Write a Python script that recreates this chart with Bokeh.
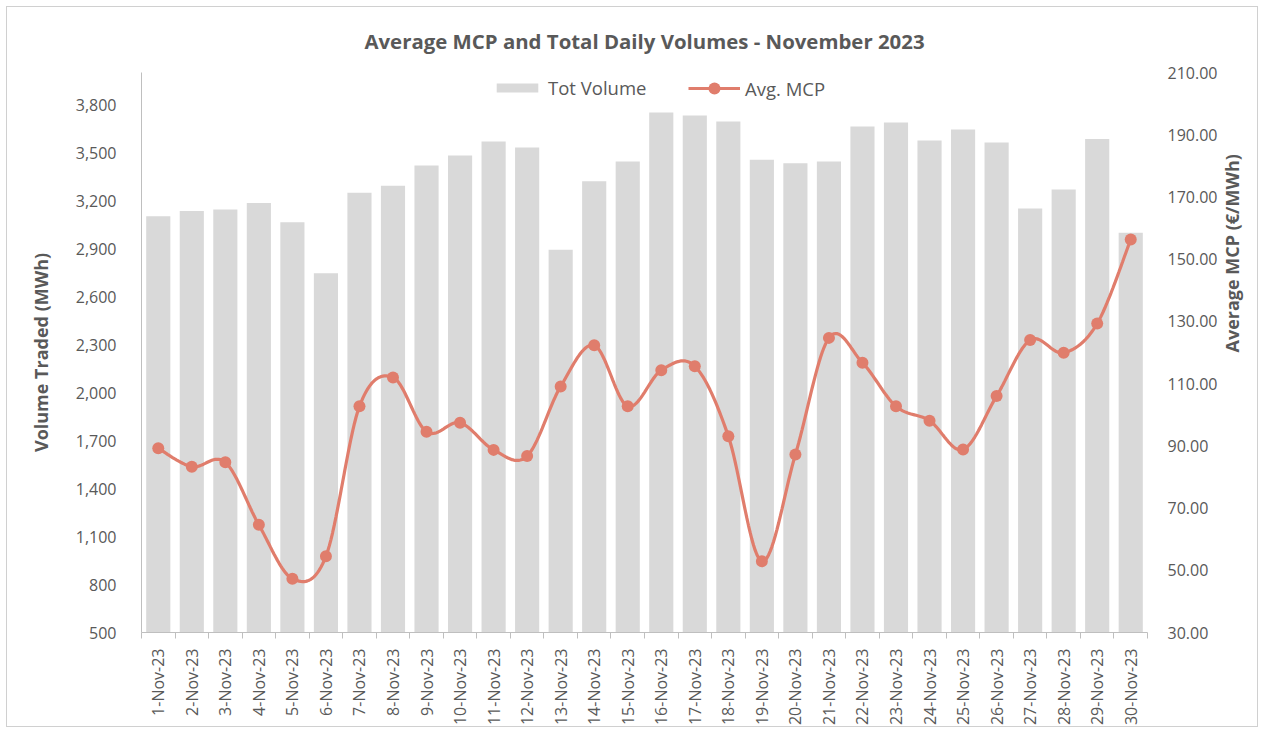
import numpy as np
from bokeh.plotting import figure
from bokeh.models import (Range1d, LinearAxis, FixedTicker, NumeralTickFormatter,
                          Legend, LegendItem)
from bokeh.embed import file_html
from bokeh.resources import INLINE

# ---------------- data ----------------
days = [f"{d}-Nov-23" for d in range(1, 31)]
tot_volume = [3102, 3135, 3144, 3185, 3064, 2746, 3248, 3292, 3419, 3481,
              3569, 3531, 2892, 3321, 3444, 3750, 3731, 3694, 3454, 3433,
              3444, 3662, 3687, 3575, 3644, 3562, 3150, 3269, 3585, 2998]
avg_mcp = [89.2, 83.3, 84.7, 64.6, 47.3, 54.5, 102.7, 112.0, 94.5, 97.4,
           88.7, 86.7, 109.1, 122.3, 102.7, 114.3, 115.6, 93.1, 52.9, 87.2,
           124.7, 116.7, 102.7, 98.1, 88.8, 106.0, 124.0, 119.9, 129.3, 156.3]
left_ticks = list(range(500, 3801, 300))
right_ticks = list(range(30, 211, 20))

FONT = "Open Sans"
GREY = "#595959"
BAR = "#d9d9d9"
LINE = "#e07d6c"

x = np.arange(1, len(days) + 1)


def smooth(xs, ys, n=20):
    pts = np.column_stack([xs, ys]).astype(float)
    out = []
    m = len(pts)
    for i in range(m - 1):
        p0 = pts[i - 1] if i > 0 else pts[i]
        p1 = pts[i]
        p2 = pts[i + 1]
        p3 = pts[i + 2] if i + 2 < m else pts[i + 1]
        c1 = p1 + (p2 - p0) / 6.0
        c2 = p2 - (p3 - p1) / 6.0
        for t in np.linspace(0, 1, n, endpoint=(i == m - 2)):
            b = ((1 - t) ** 3) * p1 + 3 * ((1 - t) ** 2) * t * c1 + 3 * (1 - t) * t * t * c2 + t ** 3 * p2
            out.append(b)
    out = np.array(out)
    return out[:, 0], out[:, 1]


p = figure(width=1252, height=721, output_backend="svg", toolbar_location=None,
           x_range=Range1d(0.5, 30.5), y_range=Range1d(500, 4000),
           min_border_left=134, min_border_right=109, min_border_top=65,
           min_border_bottom=96)
p.extra_y_ranges = {"mcp": Range1d(30, 210)}

p.title.text = "Average MCP and Total Daily Volumes - November 2023"
p.title.align = "center"
p.title.text_font = FONT
p.title.text_font_size = "20.4px"
p.title.text_color = GREY
p.title.text_font_style = "bold"
p.title.standoff = 35

p.xgrid.visible = False
p.ygrid.visible = False
p.outline_line_color = None
p.styles = {"border": "1px solid #d0d0d0", "margin": "6px"}

bars = p.vbar(x=x, top=tot_volume, bottom=500, width=0.72, fill_color=BAR,
              line_color=None)

sx, sy = smooth(x, avg_mcp)
ln = p.line(sx, sy, line_color=LINE, line_width=3.2, y_range_name="mcp")
pts = p.scatter(x, avg_mcp, size=12, fill_color=LINE, line_color=None,
                y_range_name="mcp")

# x axis
xa = p.xaxis[0]
xa.ticker = FixedTicker(ticks=list(x), minor_ticks=list(np.arange(0.5, 31, 1.0)))
xa.major_label_overrides = {int(i): d for i, d in zip(x, days)}
xa.major_label_orientation = np.pi / 2
xa.major_tick_line_color = None
xa.minor_tick_line_color = "#bfbfbf"
xa.minor_tick_out = 6
xa.minor_tick_in = 0
xa.axis_line_color = "#bfbfbf"
xa.major_label_text_font = FONT
xa.major_label_text_font_size = "16px"
xa.major_label_text_color = GREY
xa.major_label_standoff = 10

# left axis
ya = p.yaxis[0]
ya.ticker = FixedTicker(ticks=left_ticks)
ya.formatter = NumeralTickFormatter(format="0,0")
ya.axis_label = "Volume Traded (MWh)"
ya.axis_label_text_font = FONT
ya.axis_label_text_font_size = "18px"
ya.axis_label_text_font_style = "bold"
ya.axis_label_text_color = GREY
ya.axis_label_standoff = 20
ya.major_tick_line_color = None
ya.minor_tick_line_color = None
ya.axis_line_color = "#bfbfbf"
ya.major_label_text_font = FONT
ya.major_label_text_font_size = "16px"
ya.major_label_text_color = GREY
ya.major_label_standoff = 19

# right axis
ra = LinearAxis(y_range_name="mcp", ticker=FixedTicker(ticks=right_ticks),
                formatter=NumeralTickFormatter(format="0.00"))
ra.axis_label = "Average MCP (€/MWh)"
ra.axis_label_orientation = np.pi / 2
ra.axis_label_text_font = FONT
ra.axis_label_text_font_size = "18px"
ra.axis_label_text_font_style = "bold"
ra.axis_label_text_color = GREY
ra.axis_label_text_line_height = 1.0
ra.axis_label_standoff = 12
ra.major_tick_line_color = None
ra.minor_tick_line_color = None
ra.axis_line_color = None
ra.major_label_text_font = FONT
ra.major_label_text_font_size = "16px"
ra.major_label_text_color = GREY
ra.major_label_standoff = 14
p.add_layout(ra, "right")

legend_common = dict(orientation="horizontal", border_line_color=None,
                     background_fill_alpha=0, label_text_font=FONT,
                     label_text_font_size="18.5px", label_text_color=GREY,
                     glyph_width=52, margin=0, padding=6, label_standoff=5)
legend_vol = Legend(items=[LegendItem(label="Tot Volume", renderers=[bars])],
                    location=(350, 532), glyph_height=11, **legend_common)
legend_mcp = Legend(items=[LegendItem(label="Avg. MCP", renderers=[ln, pts])],
                    location=(547, 529), glyph_height=30, **legend_common)
p.add_layout(legend_vol, "center")
p.add_layout(legend_mcp, "center")

open("out.html", "w").write(file_html(p, INLINE))
